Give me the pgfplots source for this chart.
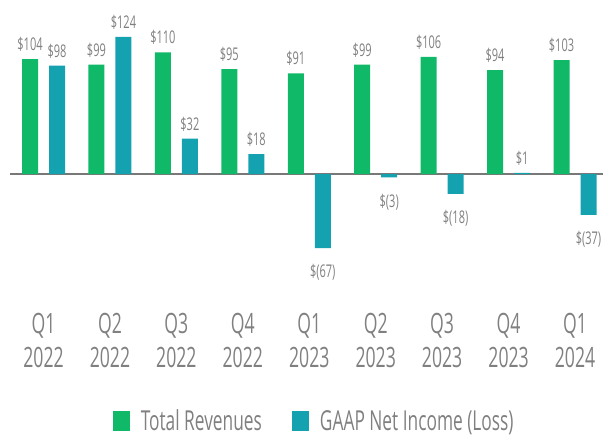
\documentclass[border=0pt]{standalone}
\usepackage{pgfplots}
\pgfplotsset{compat=1.18}
\usepackage{fontspec}
\setmainfont{Open Sans}[FakeStretch=0.63]
\definecolor{revgreen}{RGB}{16,185,103}
\definecolor{incteal}{RGB}{20,161,176}
\definecolor{txtgray}{RGB}{128,128,128}
\definecolor{linegray}{RGB}{120,120,120}
\pgfplotsset{
  signlabel/.style={
    visualization depends on={y \as \rawy},
    every node near coord/.append style={
      /utils/exec={\pgfmathtruncatemacro\isneg{\rawy<0}%
        \ifnum\isneg=1 \def\myanc{north}\def\myys{-13pt}\else\def\myanc{south}\def\myys{4pt}\fi},
      anchor=\myanc, yshift=\myys, xshift=#1}
  }
}
\begin{document}
\begin{tikzpicture}
\useasboundingbox (-43.5pt,-263pt) rectangle (559.5pt,174pt);
\begin{axis}[
  at={(0pt,0pt)}, anchor=origin,
  x=66.44pt, y=1.105pt,
  xmin=-0.504, xmax=8.42, ymin=-123, ymax=130,
  axis line style={draw=none},
  ytick=\empty,
  xtick={0,...,8},
  xticklabels={{Q1\\2022},{Q2\\2022},{Q3\\2022},{Q4\\2022},{Q1\\2023},{Q2\\2023},{Q3\\2023},{Q4\\2023},{Q1\\2024}},
  major tick length=0pt,
  xticklabel style={align=center, font=\fontsize{28}{34}\selectfont, text=txtgray},
  extra y ticks={0}, extra y tick labels={},
  extra y tick style={grid=major, major grid style={linegray, line width=1.6pt}},
  clip=false,
  every node near coord/.append style={font=\fontsize{17.5}{18}\selectfont, text=txtgray},
  legend style={at={(0.513,0)}, anchor=center, yshift=-111pt, draw=none, fill=none,
    font=\fontsize{27.5}{30}\selectfont, text=txtgray,
    /tikz/every odd column/.append style={column sep=9pt},
    /tikz/every even column/.append style={column sep=28pt}},
  legend columns=2,
  legend cell align=left,
]
\addplot[ybar, bar width=16pt, bar shift=-13.5pt, fill=revgreen, draw=none,
  nodes near coords, point meta=explicit symbolic, signlabel=-13.5pt,
  legend image code/.code={\fill[revgreen] (0pt,-10pt) rectangle (17pt,10pt);}]
  coordinates {(0,104)[\$104] (1,99)[\$99] (2,110)[\$110] (3,95)[\$95] (4,91)[\$91] (5,99)[\$99] (6,106)[\$106] (7,94)[\$94] (8,103)[\$103]};
\addlegendentry{Total Revenues}
\addplot[ybar, bar width=16pt, bar shift=13.5pt, fill=incteal, draw=none,
  nodes near coords, point meta=explicit symbolic, signlabel=13.5pt,
  legend image code/.code={\fill[incteal] (0pt,-10pt) rectangle (17pt,10pt);}]
  coordinates {(0,98)[\$98] (1,124)[\$124] (2,32)[\$32] (3,18)[\$18] (4,-67)[\$(67)] (5,-3)[\$(3)] (6,-18)[\$(18)] (7,1)[\$1] (8,-37)[\$(37)]};
\addlegendentry{GAAP Net Income (Loss)}
\end{axis}
\end{tikzpicture}
\end{document}
